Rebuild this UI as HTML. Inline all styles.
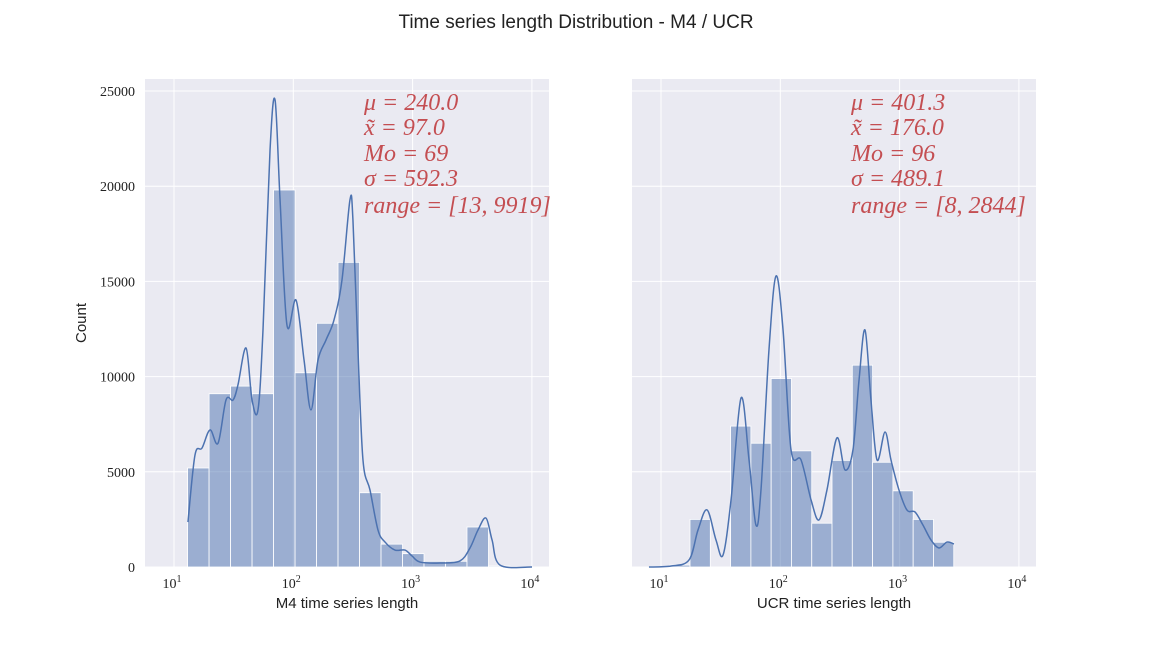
<!DOCTYPE html>
<html><head><meta charset="utf-8">
<style>
body{margin:0;background:#fff;width:1152px;height:648px;overflow:hidden}
svg text{font-family:"Liberation Sans","DejaVu Sans",sans-serif}
.serif{font-family:"Liberation Serif","DejaVu Serif",serif}
</style></head>
<body>
<svg id="chart" width="1152" height="648" xmlns="http://www.w3.org/2000/svg">
<text x="576" y="28" text-anchor="middle" font-size="19" fill="#222">Time series length Distribution - M4 / UCR</text>
<g id="left"></g>
<g id="right"></g>
</svg>
<script>
// M4 histogram (16 log-spaced bins from 13 to 9919)
const m4Counts=[5200,9100,9500,9100,19800,10200,12800,16000,3900,1200,700,300,300,2100,50,0];
const m4Min=13, m4Max=9919;
const m4KdeLogX=[1.117,1.176,1.235,1.302,1.369,1.436,1.495,1.536,1.604,1.654,1.704,1.746,1.805,1.847,1.889,1.947,2.023,2.090,2.148,2.207,2.274,2.341,2.408,2.475,2.500,2.542,2.584,2.643,2.710,2.769,2.852,2.936,2.995,3.062,3.230,3.397,3.481,3.548,3.615,3.666,3.733,4.001];
const m4KdeY=[2360,5880,6250,7200,6500,8770,8770,9560,11500,8770,8250,12450,21900,24530,19280,12700,14020,10870,8250,10870,11920,12970,15070,19280,18220,11400,5620,4040,1940,1310,890,890,580,260,210,320,1000,1940,2570,1420,100,0];
const m4Stats=["μ = 240.0","x̃ = 97.0","Mo = 69","σ = 592.3","range = [13, 9919]"];
// UCR histogram (15 bins from 8 to 2844)
const ucrCounts=[30,100,2500,0,7400,6500,9900,6100,2300,5600,10600,5500,4000,2500,1300];
const ucrMin=8, ucrMax=2844;
const ucrKdeLogX=[0.899,1.084,1.235,1.310,1.386,1.461,1.520,1.587,1.671,1.738,1.796,1.838,1.905,1.964,2.023,2.090,2.174,2.258,2.324,2.391,2.475,2.542,2.609,2.660,2.710,2.760,2.811,2.878,2.928,2.995,3.062,3.129,3.196,3.263,3.330,3.397,3.456];
const ucrKdeY=[0,50,370,1940,3000,1420,630,3520,8880,5620,2200,4040,11400,15280,12450,6150,5620,3520,2470,4040,6780,5100,6150,9820,12450,8770,5620,7090,5620,4040,2990,2890,2200,1420,1000,1310,1210];
const ucrStats=["μ = 401.3","x̃ = 176.0","Mo = 96","σ = 489.1","range = [8, 2844]"];
const yTicks=[0,5000,10000,15000,20000,25000];
const xTickExp=[1,2,3,4];

const NS="http://www.w3.org/2000/svg";
function mk(p,t,a){const e=document.createElementNS(NS,t);for(const k in a)e.setAttribute(k,a[k]);p.appendChild(e);return e;}
function smooth(pts){let d="M"+pts[0][0]+","+pts[0][1];for(let i=0;i<pts.length-1;i++){const p0=pts[i-1]||pts[i],p1=pts[i],p2=pts[i+1],p3=pts[i+2]||p2;
d+=" C"+(p1[0]+(p2[0]-p0[0])/6)+","+(p1[1]+(p2[1]-p0[1])/6)+" "+(p2[0]-(p3[0]-p1[0])/6)+","+(p2[1]-(p3[1]-p1[1])/6)+" "+p2[0]+","+p2[1];}return d;}

function panel(g,x0,counts,mn,mx,kx,ky,stats,xlabel,showY,name){
  const W=404,top=79,bot=567;
  const xs=l=>x0+29+(l-1)*119.3;
  const ys=v=>bot-v*0.01904;
  const bg=mk(g,'rect',{x:x0,y:top,width:W,height:bot-top,fill:'#eaeaf2'});
  
  yTicks.forEach(t=>{const l=mk(g,'line',{x1:x0,x2:x0+W,y1:ys(t),y2:ys(t),stroke:'#fff','stroke-width':1});
    
    if(showY){const tx=mk(g,'text',{x:x0-10,y:ys(t)+5,'text-anchor':'end','font-size':14,fill:'#222',class:'serif'});tx.textContent=t;
      }});
  xTickExp.forEach(e=>{const l=mk(g,'line',{x1:xs(e),x2:xs(e),y1:top,y2:bot,stroke:'#fff','stroke-width':1});
    
    const t=mk(g,'text',{x:xs(e)-2,y:588,'text-anchor':'middle','font-size':14,fill:'#222',class:'serif'});
    
    t.textContent='10';const s=mk(t,'tspan',{dy:-6,'font-size':10});s.textContent=e;});
  const l0=Math.log10(mn),l1=Math.log10(mx),bw=(l1-l0)/counts.length;
  counts.forEach((c,i)=>{const a=xs(l0+i*bw),b=xs(l0+(i+1)*bw);
    const r=mk(g,'rect',{x:a,y:ys(c),width:b-a,height:bot-ys(c),fill:'rgba(76,114,176,0.5)',stroke:'#fff','stroke-width':0.8});
    });
  const pts=kx.map((l,i)=>[xs(l),ys(ky[i])]);
  const p=mk(g,'path',{d:smooth(pts),fill:'none',stroke:'#4c72b0','stroke-width':1.5});
  
  const base=[110,135,161,186,213];
  stats.forEach((s,i)=>{const t=mk(g,'text',{x:x0+219,y:base[i],'font-size':24,fill:'#c44e52',class:'serif','font-style':'italic'});t.textContent=s;
    });
  const xl=mk(g,'text',{x:x0+W/2,y:608,'text-anchor':'middle','font-size':15,fill:'#222'});xl.textContent=xlabel;
  
  if(showY){const yl=mk(g,'text',{x:0,y:0,'text-anchor':'middle','font-size':15,fill:'#222',transform:'translate(86,323) rotate(-90)'});yl.textContent='Count';
    }
}
panel(document.getElementById('left'),145,m4Counts,m4Min,m4Max,m4KdeLogX,m4KdeY,m4Stats,'M4 time series length',true,'m4');
panel(document.getElementById('right'),632,ucrCounts,ucrMin,ucrMax,ucrKdeLogX,ucrKdeY,ucrStats,'UCR time series length',false,'ucr');
</script>
</body></html>
